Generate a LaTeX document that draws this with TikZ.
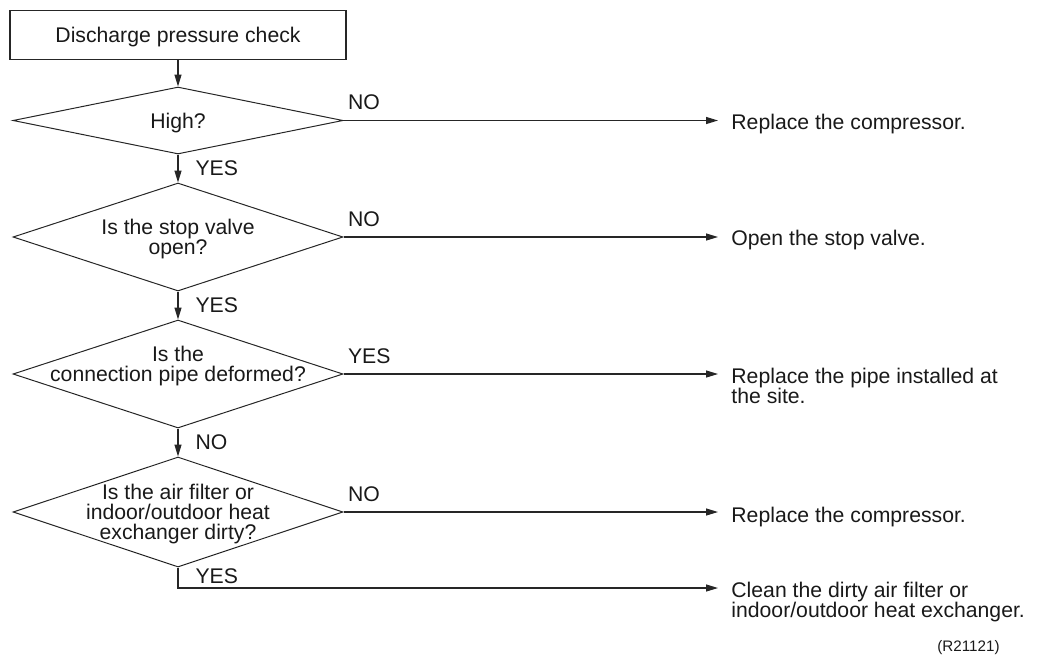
\documentclass[tikz,border=0pt]{standalone}
\usepackage{fontspec}
\setmainfont{Liberation Sans}
\usetikzlibrary{positioning, arrows.meta, shapes.geometric}

\begin{document}
\begin{tikzpicture}[x=0.5pt, y=-0.5pt,
    every node/.style={font=\fontsize{10.6pt}{10pt}\selectfont, text=black!90},
    startbox/.style={rectangle, draw=black!85, line width=0.6pt, minimum width=168pt, minimum height=24.5pt, inner sep=0, text depth=0pt},
    decision/.style={diamond, draw=black!85, line width=0.5pt, minimum width=165pt, minimum height=54pt, inner sep=0},
    question/.style={align=center, inner sep=0, text depth=0pt},
    result/.style={anchor=north west, align=left, inner xsep=6.5pt, inner ysep=0},
    lbl/.style={inner sep=0},
    arrow/.style={-{Triangle[length=6pt, width=3.5pt]}, line width=0.6pt, draw=black!85}]

  \useasboundingbox (0,0) rectangle (1037,659);

  % main column
  \node[startbox] (start) at (178,35) {Discharge pressure check};
  \node[decision, minimum height=33.5pt] (high) at (178,120.5) {};
  \node[question] (highq) at (high) {High?};
  \node[decision] (valve) at (178,237) {};
  \node[question] (valveq) at (valve) {Is the stop valve\\open?};
  \node[decision] (pipe) at (178,374) {};
  \node[question, yshift=5pt] (pipeq) at (pipe) {Is the\\connection pipe deformed?};
  \node[decision, minimum height=55pt] (dirty) at (178,512) {};
  \node[question] (dirtyq) at (dirty) {Is the air filter or\\indoor/outdoor heat\\exchanger dirty?};

  % outcomes
  \node[result] (rcomp) at (718,114) {Replace the compressor.};
  \node[result] (ropen) at (718,230) {Open the stop valve.};
  \node[result] (rpipe) at (718,368) {Replace the pipe installed at\\the site.};
  \node[result] (rcomp2) at (718,507) {Replace the compressor.};
  \node[result] (rclean) at (718,582) {Clean the dirty air filter or\\indoor/outdoor heat exchanger.};
  \node[lbl, anchor=east, font=\fontsize{7.6pt}{9pt}\selectfont] (code) at (1000,648) {(R21121)};

  \coordinate (bend) at (178,588);

  \draw[arrow] (start) -- (high);
  \draw[arrow] (high) -- node[lbl, right=8.5pt] (yes1) {YES} (valve);
  \draw[arrow] (valve) -- node[lbl, right=8.5pt] (yes2) {YES} (pipe);
  \draw[arrow] (pipe) -- node[lbl, right=8.5pt] (no3) {NO} (dirty);

  \draw[arrow] (high.east) -- node[lbl, at start, anchor=south west, xshift=2pt, yshift=5pt] (no1) {NO} (high.east -| rcomp.west);
  \draw[arrow] (valve.east) -- node[lbl, at start, anchor=south west, xshift=2pt, yshift=5pt] (no2) {NO} (valve.east -| ropen.west);
  \draw[arrow] (pipe.east) -- node[lbl, at start, anchor=south west, xshift=2pt, yshift=5pt] (yes3) {YES} (pipe.east -| rpipe.west);
  \draw[arrow] (dirty.east) -- node[lbl, at start, anchor=south west, xshift=2pt, yshift=5pt] (no4) {NO} (dirty.east -| rcomp2.west);
  \draw[arrow] (dirty.south) -- node[lbl, at start, anchor=north west, xshift=8.5pt, yshift=-0.5pt] (yes4) {YES} (bend) -- (bend -| rclean.west);
\end{tikzpicture}
\end{document}
